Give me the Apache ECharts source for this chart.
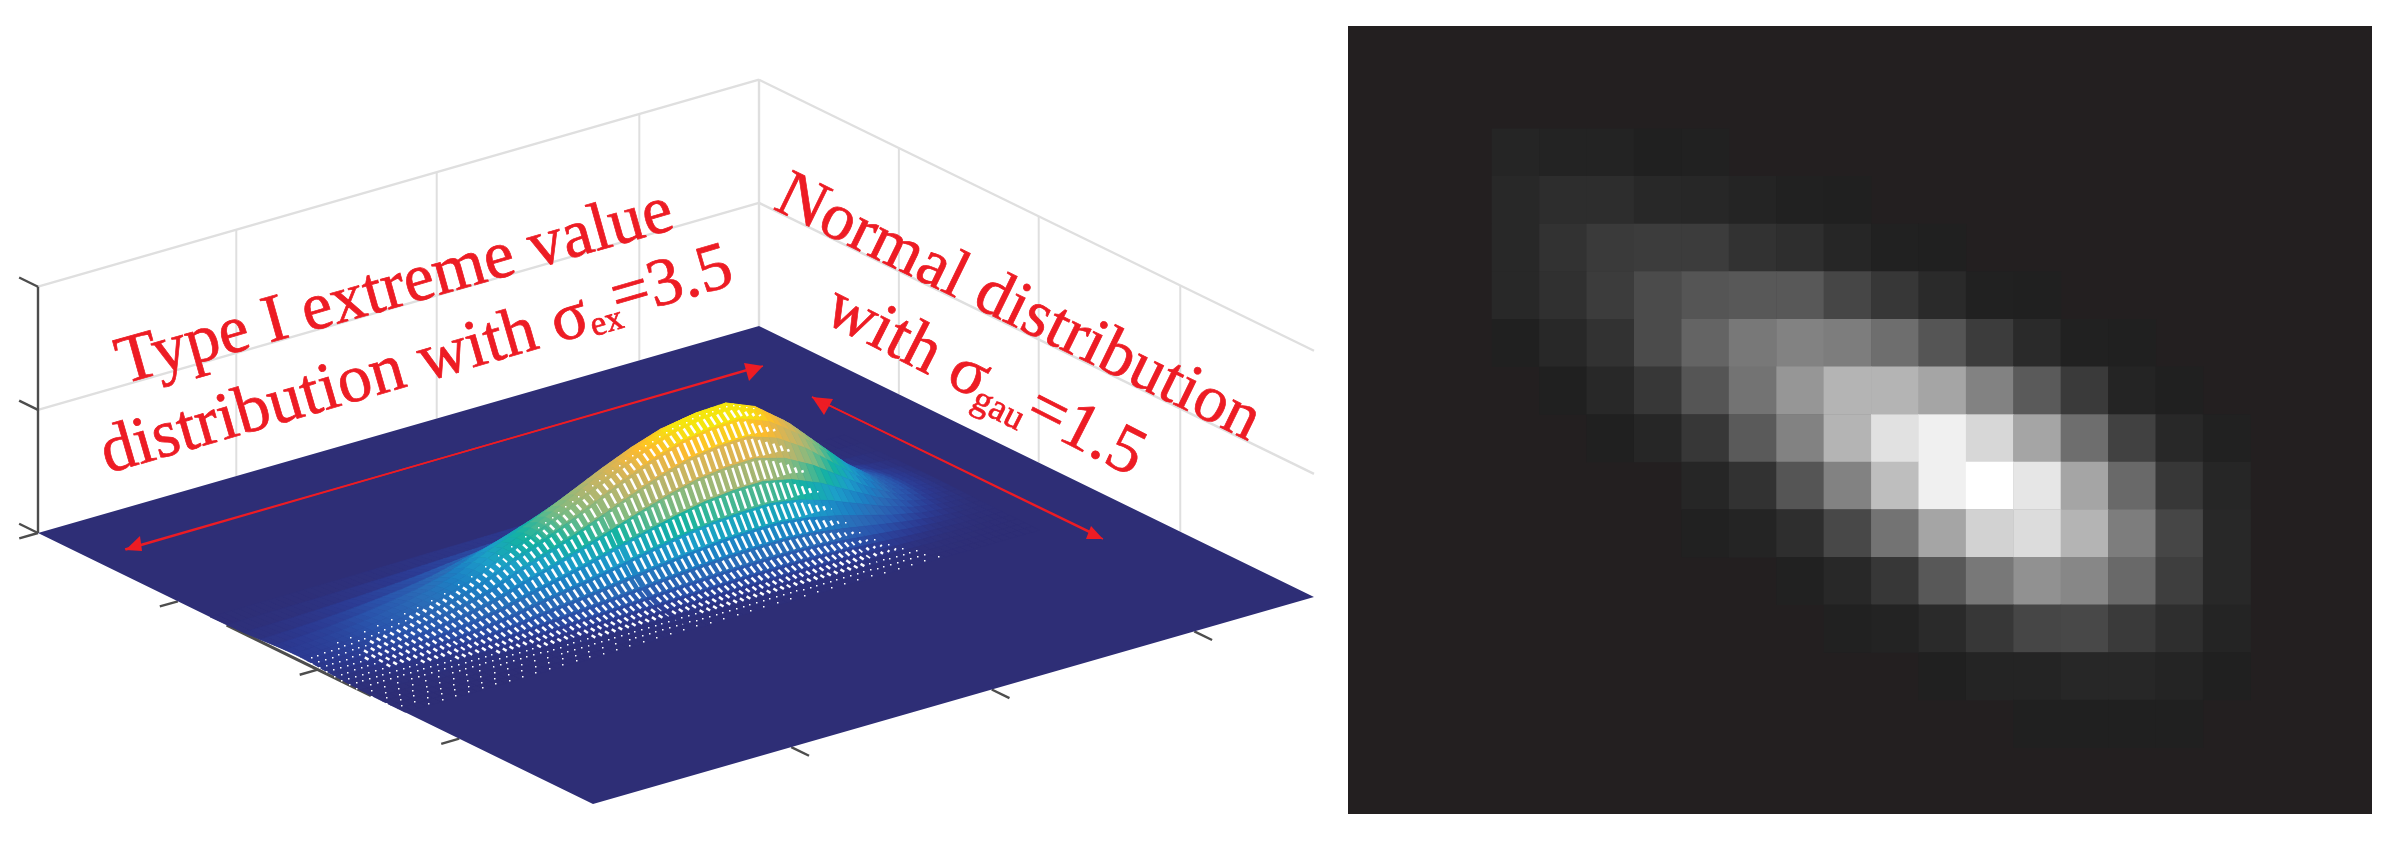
<!DOCTYPE html>
<html><head><meta charset="utf-8">
<style>html,body{margin:0;padding:0;background:#fff}#c{width:2400px;height:844px}</style>
<script src="https://cdn.jsdelivr.net/npm/echarts@6/dist/echarts.min.js"></script>
</head><body><div id="c"></div>
<script>
// ---------- surface readings: position along long floor edge, along short floor edge
const surfS=[0,.04,.08,.12,.16,.20,.24,.28,.32,.36,.40,.44,.48,.52,.56,.60,.64,.68,.72,.76,.80,.84,.88];
const surfT=[.31,.34,.37,.40,.425,.445,.46,.4725,.486,.4995,.513,.5265,.54,.5535,.567,.5805,.594,.6075,.621,.6345,.648,.6615];
const surfZ=[
[.06,.08,.11,.17,.25,.34,.48,.68,.86,1,1.3,1.5,1.7,1.8,1.9,1.9,1.7,1.4,1,.57,.25,.08,.01],
[.23,.3,.46,.68,1,1.4,1.9,2.7,3.4,4.2,5,5.9,6.6,7.2,7.5,7.6,6.9,5.6,4,2.3,1,.3,.05],
[.68,.9,1.35,2,2.9,4.1,5.6,8.1,10.1,12.4,14.9,17.3,19.6,21.4,22.3,22.5,20.5,16.7,11.7,6.8,2.9,.9,.14],
[1.5,2,3,4.5,6.5,8.9,12.4,17.9,22.4,27.3,32.8,38.3,43.2,47.2,49.2,49.7,45.2,36.8,25.8,14.9,6.5,2,.3],
[2.3,3.1,4.6,6.9,10,13.8,19.2,27.6,34.6,42.2,50.7,59.1,66.8,73,76,76.8,69.9,56.8,39.9,23,10,3.1,.46],
[2.8,3.7,5.6,8.4,12.2,16.8,23.4,33.7,42.1,51.5,61.8,72.1,81.4,88.9,92.7,93.6,85.2,69.3,48.7,28.1,12.2,3.7,.56],
[3,4,6,9,12.9,17.9,24.9,35.9,44.8,54.8,65.7,76.7,86.7,94.6,98.6,99.6,90.6,73.7,51.8,29.9,12.9,4,.6],
[3,4,5.9,8.9,12.9,17.8,24.8,35.7,44.6,54.5,65.4,76.3,86.2,94.1,98.1,99.1,90.2,73.3,51.5,29.7,12.9,4,.59],
[2.8,3.7,5.6,8.4,12.1,16.7,23.3,33.5,41.9,51.2,61.4,71.6,80.9,88.4,92.1,93,84.6,68.8,48.4,27.9,12.1,3.7,.56],
[2.5,3.3,4.9,7.4,10.7,14.8,20.5,29.6,36.9,45.2,54.2,63.2,71.4,78,81.3,82.1,74.7,60.8,42.7,24.6,10.7,3.3,.49],
[2,2.7,4.1,6.1,8.9,12.3,17.1,24.6,30.7,37.6,45.1,52.6,59.4,64.9,67.6,68.3,62.2,50.5,35.5,20.5,8.9,2.7,.41],
[1.6,2.1,3.2,4.8,7,9.6,13.4,19.3,24.1,29.4,35.3,41.2,46.5,50.8,53,53.5,48.7,39.6,27.8,16,7,2.1,.32],
[1.2,1.6,2.4,3.6,5.1,7.1,9.9,14.2,17.8,21.7,26.1,30.4,34.4,37.5,39.1,39.5,35.9,29.2,20.5,11.9,5.1,1.6,.24],
[.8,1.1,1.6,2.5,3.6,4.9,6.9,9.9,12.3,15.1,18.1,21.1,23.8,26,27.1,27.4,24.9,20.3,14.2,8.2,3.6,1.1,.16],
[.54,.72,1.1,1.6,2.3,3.2,4.5,6.4,8.1,9.8,11.8,13.8,15.6,17,17.7,17.9,16.3,13.2,9.3,5.4,2.3,.72,.11],
[.33,.44,.66,1,1.4,2,2.8,4,5,6.1,7.3,8.5,9.6,10.5,10.9,11,10,8.1,5.7,3.3,1.4,.44,.07],
[.19,.26,.38,.58,.83,1.2,1.6,2.3,2.9,3.5,4.2,4.9,5.6,6.1,6.3,6.4,5.8,4.7,3.3,1.9,.83,.26,.04],
[.11,.14,.21,.32,.46,.63,.88,1.3,1.6,1.9,2.3,2.7,3,3.3,3.5,3.5,3.2,2.6,1.8,1.05,.46,.14,.02],
[.05,.07,.11,.16,.23,.32,.45,.65,.81,1,1.2,1.4,1.6,1.7,1.8,1.8,1.6,1.3,.94,.54,.23,.07,.01],
[.03,.04,.05,.08,.12,.16,.23,.32,.41,.5,.59,.69,.78,.86,.89,.9,.82,.67,.47,.27,.12,.04,.01],
[.01,.02,.02,.04,.05,.07,.1,.14,.18,.22,.26,.31,.35,.38,.4,.4,.36,.3,.21,.12,.05,.02,0],
[.01,.01,.01,.02,.03,.04,.05,.07,.09,.11,.13,.15,.17,.19,.2,.2,.18,.15,.1,.06,.03,.01,0]
];
// box ticks
const sTicks=[.275,.553,.834];
const tTicks=[.252,.504,.759];
const zTicks=[0,94,188];
// right panel: grey level of every visible pixel block (0 = background)
const grayRows=[
[37,35,35,32,33,0,0,0,0,0,0,0,0,0,0,0,0],
[40,45,45,40,39,36,33,32,0,0,0,0,0,0,0,0,0],
[40,50,58,60,60,50,46,38,33,32,0,0,0,0,0,0,0],
[40,48,60,75,85,88,88,70,55,42,33,32,0,0,0,0,0],
[32,40,50,75,100,120,130,125,110,85,60,42,33,32,0,0,0],
[0,32,40,55,85,115,150,180,180,165,130,90,58,36,32,0,0],
[0,0,32,38,55,90,130,180,225,240,215,165,110,65,40,33,0],
[0,0,0,0,38,50,85,130,190,240,255,230,165,105,55,38,0],
[0,0,0,0,33,36,46,72,115,165,210,220,180,125,70,40,0],
[0,0,0,0,0,0,33,40,55,88,120,145,135,105,62,40,0],
[0,0,0,0,0,0,0,33,35,42,55,70,72,58,46,36,0],
[0,0,0,0,0,0,0,0,0,32,36,36,39,39,36,32,0],
[0,0,0,0,0,0,0,0,0,0,0,32,32,32,32,0,0]
];
const grayCols=grayRows[0].map((_,i)=>'c'+i);
const grayRowNames=grayRows.map((_,i)=>'r'+i);
// parula-like ramp: height -> colour
const rampH=[0,3,8,15,22,32,43,55,67,78,85,90,95,100];
const rampC=['#2e2e76','#2c3a92','#2a55ad','#2a6db8','#1c80c4','#1c9fc9','#14b3a2','#7dbb82','#b8b56c','#e0b550','#fdbb2c','#fbd01d','#f5e60d','#f5e60d'];
const RED='#ed1c24',AX='#4d4d4d',GRID='#dfdfdf';

// oblique view of the box
function project(s,t,z){return [38+721*s+555*t, 533-207*s+271*t-1.31*z];}
function hex(c){return [1,3,5].map(i=>parseInt(c.substr(i,2),16));}
const rampRGB=rampC.map(hex);
function colorOf(z){
  if(z<=0)return rampC[0];
  for(let k=1;k<rampH.length;k++) if(z<=rampH[k]){
    const f=(z-rampH[k-1])/(rampH[k]-rampH[k-1]),a=rampRGB[k-1],b=rampRGB[k];
    return 'rgb('+a.map((v,n)=>Math.round(v+(b[n]-v)*f)).join(',')+')';
  }
  return rampC[rampC.length-1];
}
// box segments: [s1,t1,z1,s2,t2,z2,colour,width]
const seg=[];
zTicks.slice(1).forEach(z=>{seg.push([0,0,z,1,0,z,GRID,2.4]);seg.push([1,0,z,1,1,z,GRID,2.4]);});
sTicks.forEach(s=>seg.push([s,0,0,s,0,188,GRID,2]));
tTicks.forEach(t=>seg.push([1,t,0,1,t,188,GRID,2]));
seg.push([1,0,0,1,0,188,GRID,2.4]);
seg.push([0,0,0,0,0,188,AX,2.4]);
zTicks.forEach(z=>seg.push([0,0,z,0,-.034,z,AX,2.4]));
seg.push([0,0,0,-.026,0,0,AX,2.4]);
tTicks.forEach(t=>seg.push([0,t,0,-.025,t,0,AX,2.4]));
sTicks.forEach(s=>seg.push([s,1,0,s,1.032,0,AX,2.4]));
seg.push([0,.34,0,0,.6,0,AX,3]);

function drawSeg(p,api){
  const a=api.coord(project(api.value(0),api.value(1),api.value(2)));
  const b=api.coord(project(api.value(3),api.value(4),api.value(5)));
  const d=seg[p.dataIndex];
  return {type:'line',silent:true,shape:{x1:a[0],y1:a[1],x2:b[0],y2:b[1]},style:{stroke:d[6],lineWidth:d[7]}};
}
function drawFloor(p,api){
  const pts=[[0,0,0],[1,0,0],[1,1,0],[0,1,0]];
  for(let j=surfT.length-1;j>=0;j--) pts.push([0,surfT[j],surfZ[j][0]]);
  return {type:'polygon',silent:true,shape:{points:pts.map(q=>api.coord(project(q[0],q[1],q[2])))},style:{fill:rampC[0]}};
}
const slashStep=.0093;
function drawQuad(p,api){
  const j=api.value(0),i=api.value(1);
  const s0=surfS[i],s1=surfS[i+1],t0=surfT[j],t1=surfT[j+1];
  const zA=surfZ[j][i],zB=surfZ[j][i+1],zC=surfZ[j+1][i],zD=surfZ[j+1][i+1];
  const kids=[];
  const N=4;
  const at=(f,g)=>{ // f along s, g along t
    const s=s0+(s1-s0)*f,t=t0+(t1-t0)*g;
    const z=(zA+(zB-zA)*f)*(1-g)+(zC+(zD-zC)*f)*g;
    return {s,t,z,pt:api.coord(project(s,t,z))};
  };
  for(let n=0;n<N;n++){
    const a=at(n/N,0),b=at((n+1)/N,0),c=at((n+1)/N,1),d=at(n/N,1);
    const col=colorOf((a.z+b.z)*.35+(c.z+d.z)*.15);
    kids.push({type:'polygon',silent:true,shape:{points:[a.pt,b.pt,c.pt,d.pt]},style:{fill:col,stroke:col,lineWidth:.6}});
  }
  // where the white mesh gaps stop on the falling right flank
  const gapEnd=.655+.65*((t0+t1)/2-.5);
  const k0=Math.ceil(s0/slashStep),k1=Math.ceil(s1/slashStep);
  for(let k=k0;k<k1;k++){
    const sk=k*slashStep;
    if(sk>gapEnd)break;
    const f=(sk-s0)/(s1-s0);
    const a=at(f,0),b=at(f,1);
    const dz=(a.z-b.z)*1.31;
    if(dz<=.012)continue;
    const dx=b.pt[0]-a.pt[0],dy=b.pt[1]-a.pt[1],len=Math.hypot(dx,dy);
    const fade=Math.min(1,(gapEnd-sk)/.05);
    if(dz<.9||fade<.15){
      if(dz<.3&&(k+j)%2) continue;
      const m=[a.pt[0]+dx*.5,a.pt[1]+dy*.5];
      kids.push({type:'rect',silent:true,shape:{x:Math.round(m[0]),y:Math.round(m[1]),width:1.5,height:1.5},style:{fill:'#fff'}});
    }else{
      const keep=Math.max(1.8,(len-4.4)*fade),fr=keep/len,mid=.5;
      kids.push({type:'line',silent:true,shape:{
        x1:a.pt[0]+dx*(mid-fr/2),y1:a.pt[1]+dy*(mid-fr/2),
        x2:a.pt[0]+dx*(mid+fr/2),y2:a.pt[1]+dy*(mid+fr/2)},style:{stroke:'#fff',lineWidth:2.5}});
    }
  }
  return {type:'group',children:kids};
}
const quads=[];
for(let j=0;j<surfT.length-1;j++)for(let i=0;i<surfS.length-1;i++)quads.push([j,i]);

// red arrows: [tail x,y, tip x,y, head corner 1 x,y, corner 2 x,y] in picture units
const arrows=[
 [749,369,125.5,550,140,536,142,551],
 [125,549,763,366,744,363,749,381],
 [1095,534,812,397,833,399,824,415],
 [812,397,1103,539,1091,526,1086,539]
];
function drawArrow(p,api){
  const v=[0,1,2,3,4,5,6,7].map(n=>api.value(n));
  const a=api.coord([v[0],v[1]]),b=api.coord([v[2],v[3]]),c=api.coord([v[4],v[5]]),d=api.coord([v[6],v[7]]);
  return {type:'group',children:[
    {type:'line',silent:true,shape:{x1:a[0],y1:a[1],x2:b[0],y2:b[1]},style:{stroke:RED,lineWidth:1.4}},
    {type:'polygon',silent:true,shape:{points:[b,c,d]},style:{fill:RED}}
  ]};
}
const hm=[];
grayRows.forEach((r,y)=>r.forEach((v,x)=>{if(v)hm.push([x,y,v]);}));

const FONT='"Liberation Serif","Times New Roman",serif';
function label(x,y,deg,text,size){
  return {type:'text',z:100,x,y,rotation:deg*Math.PI/180,silent:true,
    style:{text,x:0,y:0,fill:RED,stroke:RED,lineWidth:.7,font:size+'px '+FONT,textAlign:'center',textVerticalAlign:'middle'}};
}
const hidden={show:false};
const option={
  animation:false,backgroundColor:'#fff',
  grid:[
    {left:0,top:0,width:2400,height:844,show:false},
    {left:1348,top:26,width:1024,height:788,show:true,backgroundColor:'#231f20',borderWidth:0},
    {left:1492,top:128.7,width:806,height:619,show:false}
  ],
  xAxis:[
    {type:'value',gridIndex:0,min:0,max:2400,...hidden},
    {type:'value',gridIndex:1,min:0,max:1,...hidden},
    {type:'category',gridIndex:2,data:grayCols,...hidden}
  ],
  yAxis:[
    {type:'value',gridIndex:0,min:0,max:844,inverse:true,...hidden},
    {type:'value',gridIndex:1,min:0,max:1,...hidden},
    {type:'category',gridIndex:2,data:grayRowNames,inverse:true,...hidden}
  ],
  visualMap:{show:false,min:0,max:255,seriesIndex:4,inRange:{color:['#000000','#ffffff']}},
  series:[
    {type:'custom',name:'box',xAxisIndex:0,yAxisIndex:0,z:1,data:seg.map(d=>d.slice(0,6)),renderItem:drawSeg,clip:false,progressive:0,silent:true},
    {type:'custom',name:'floor',xAxisIndex:0,yAxisIndex:0,z:2,data:[[0,0]],renderItem:drawFloor,clip:false,silent:true},
    {type:'custom',name:'surface',xAxisIndex:0,yAxisIndex:0,z:3,data:quads,renderItem:drawQuad,clip:false,progressive:0,silent:true},
    {type:'custom',name:'arrows',xAxisIndex:0,yAxisIndex:0,z:4,data:arrows,renderItem:drawArrow,clip:false,silent:true},
    {type:'heatmap',name:'image',xAxisIndex:2,yAxisIndex:2,data:hm,silent:true,itemStyle:{borderWidth:0},progressive:0}
  ],
  graphic:[
    label(395,289,15.7,'Type I extreme value',68),
    label(345,386,16.2,'distribution with σ',68),
    label(607,323,16.2,'ex',35),
    label(672,284,16.2,'=3.5',68),
    label(1018,309,-26,'Normal distribution',67),
    label(907,344,-27,'with σ',68),
    label(998,410,-27,'gau',37),
    label(1085,433,-27,'=1.5',68)
  ]
};
echarts.init(document.getElementById('c'),null,{renderer:'canvas'}).setOption(option);
</script></body></html>
